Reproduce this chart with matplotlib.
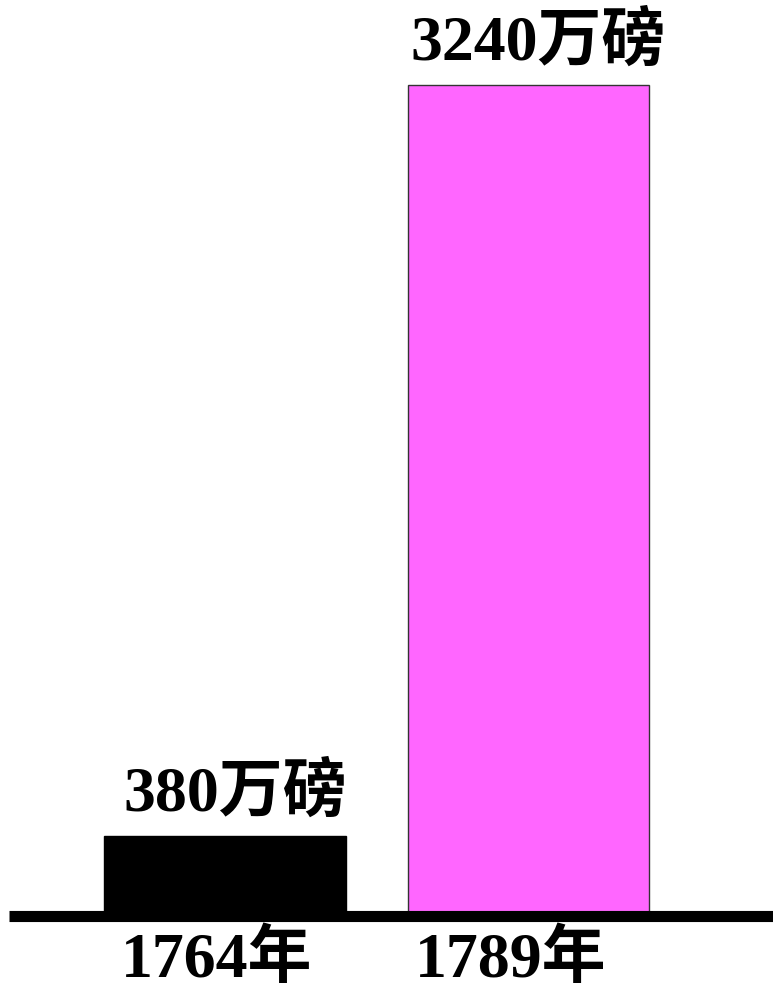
import matplotlib
matplotlib.use('Agg')
import matplotlib.pyplot as plt

years = ['1764年', '1789年']
values = [380, 3240]
value_labels = ['380万磅', '3240万磅']
colors = ['#000000', '#FF66FF']
edges = ['#000000', '#333333']

plt.rcParams['font.family'] = ['Liberation Serif', 'Noto Sans CJK SC', 'DejaVu Sans']

fig = plt.figure(figsize=(7.73, 9.91), dpi=100)
ax = fig.add_axes([9 / 773, 75 / 991, 764 / 773, 916 / 991])

x = range(len(values))
ax.bar(x, values, width=0.797, color=colors, edgecolor=edges, linewidth=1, zorder=2)

# baseline is cut a little above zero, like the original drawing
ax.set_xlim(-0.712, 1.806)
ax.set_ylim(75, 3563)
ax.axhline(75, color='black', linewidth=8, solid_capstyle='butt', clip_on=False, zorder=3)

label_dx = [7, 7]
for i, (v, lab) in enumerate(zip(values, value_labels)):
    ax.annotate(lab, xy=(i, v), xytext=(label_dx[i], 30), textcoords='offset points',
                ha='center', va='center', fontsize=46, fontweight='bold')

year_dx = [-6, -13]
for i, yr in enumerate(years):
    ax.annotate(yr, xy=(i, 75), xytext=(year_dx[i], -32), textcoords='offset points',
                ha='center', va='center', fontsize=46, fontweight='bold',
                annotation_clip=False)

ax.axis('off')
fig.savefig('out.png', dpi=100)
